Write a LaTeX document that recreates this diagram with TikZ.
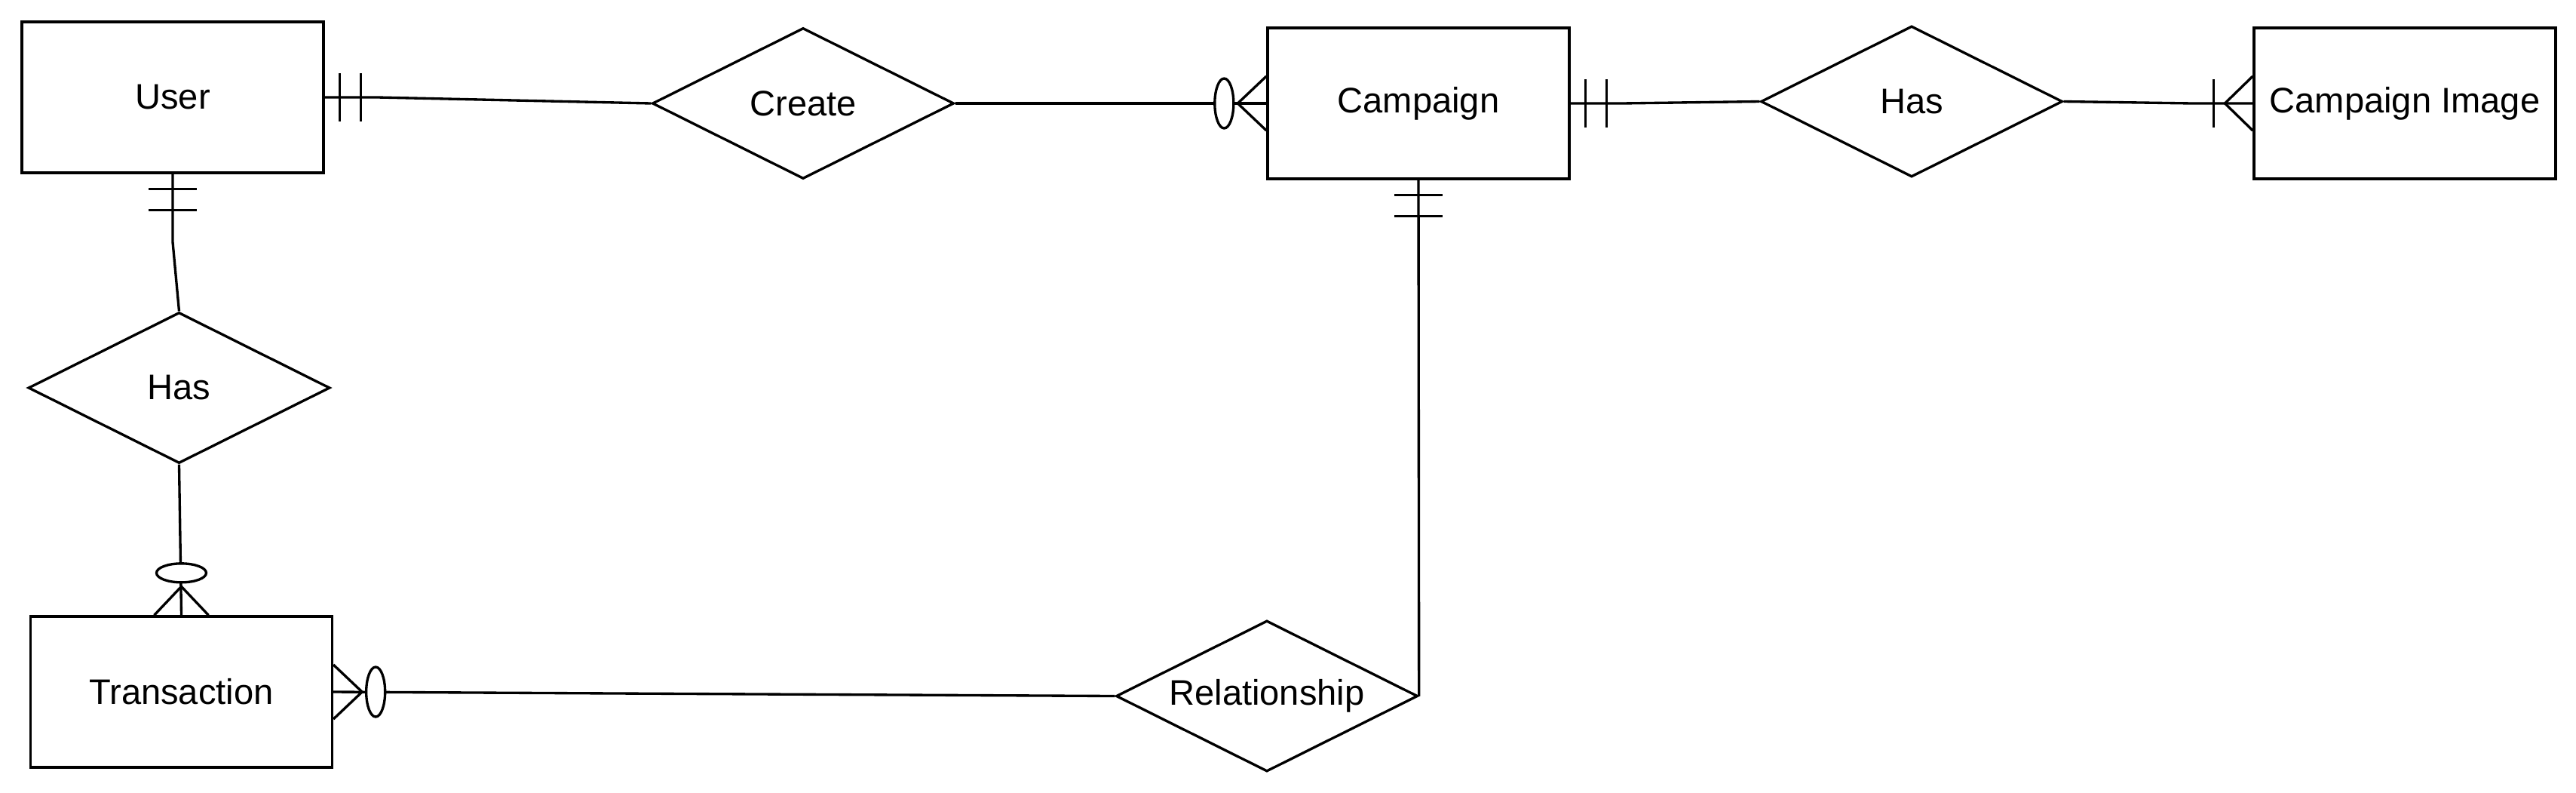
\documentclass[tikz,border=0pt]{standalone}
\usepackage{fontspec}
\setmainfont{Liberation Sans}
\usetikzlibrary{shapes.geometric, positioning}
\tikzset{
entity/.style={draw, minimum width=4cm, minimum height=2cm, inner sep=0pt}, % boxes for the entities
relation/.style={draw, diamond, aspect=2, minimum width=4cm, minimum height=2cm, inner sep=0pt}, % diamonds for the relations
twobar/.pic={\draw (0.2,-0.32) -- (0.2,0.32) (0.48,-0.32) -- (0.48,0.32);}, % exactly one
zeromany/.pic={\draw (0,0.36) -- (0.38,0) -- (0,-0.36);
  \draw[fill=white] (0.56,0) ellipse [x radius=0.125, y radius=0.33];}, % zero or many
onemany/.pic={\draw (0,0.36) -- (0.37,0) -- (0,-0.36);
  \draw (0.52,-0.32) -- (0.52,0.32);}, % one or many
}

\begin{document}
\begin{tikzpicture}[line width=0.95pt, font=\fontsize{13.4}{16}\selectfont]
        \useasboundingbox (0,0) rectangle (34.16,-10.5);

        \node[entity] (user) at (2.29,-1.29) {User};
        \node[relation] (create) at (10.65,-1.37) {Create};
        \node[entity] (campaign) at (18.81,-1.37) {Campaign};
        \node[relation] (hasimg) at (25.35,-1.345) {Has};
        \node[entity] (campimg) at (31.89,-1.37) {Campaign Image};

        \node[relation] (hastrx) at (2.375,-5.14) {Has};
        \node[entity] (transaction) at (2.405,-9.17) {Transaction};
        \node[relation] (relationship) at (16.80,-9.225) {Relationship};

        \draw (user.east) -- ++(0.7,0) -- (create.west);
        \draw (create.east) -- (campaign.west);
        \draw (campaign.east) -- ++(0.68,0) -- (hasimg.west);
        \draw (hasimg.east) -- ([xshift=-0.8cm]campimg.west) -- (campimg.west);
        \draw (user.south) -- ++(0,-0.9) -- (hastrx.north);
        \draw (hastrx.south) -- (transaction.north);
        \draw (transaction.east) -- (relationship.west);
        \draw (campaign.south) -- (relationship.east);

        % cardinality marks
        \pic at (user.east) {twobar};
        \pic[rotate=-90] at (user.south) {twobar};
        \pic[rotate=180] at (campaign.west) {zeromany};
        \pic at (campaign.east) {twobar};
        \pic[rotate=-90] at (campaign.south) {twobar};
        \pic[rotate=180] at (campimg.west) {onemany};
        \pic[rotate=90] at (transaction.north) {zeromany};
        \pic at (transaction.east) {zeromany};
    \end{tikzpicture}
\end{document}
